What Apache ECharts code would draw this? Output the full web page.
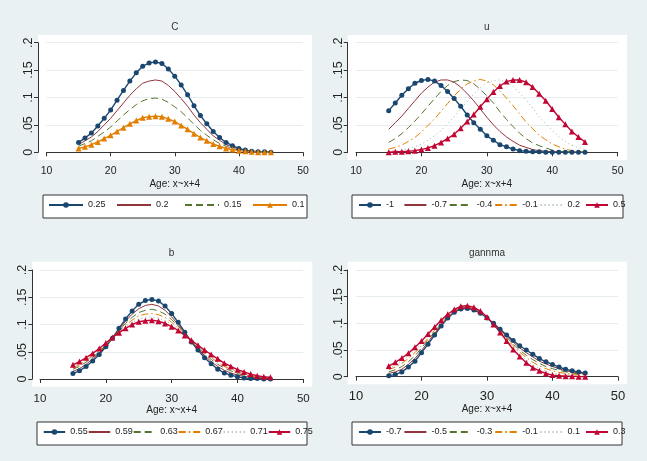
<!DOCTYPE html>
<html>
<head>
<meta charset="utf-8">
<script src="https://cdn.jsdelivr.net/npm/echarts@6/dist/echarts.min.js"></script>
<style>
  html, body { margin: 0; padding: 0; background: #eaf1f3; }
  #chart { width: 647px; height: 461px; }
</style>
</head>
<body>
<div id="chart"></div>
<script>
// ages on the x axis (start of each 5-year age group)
const ages = [15, 16, 17, 18, 19, 20, 21, 22, 23, 24, 25, 26, 27, 28, 29, 30,
  31, 32, 33, 34, 35, 36, 37, 38, 39, 40, 41, 42, 43, 44, 45];
const xTicks = [10, 20, 30, 40, 50];
const yTickLabels = ['0', '.05', '.1', '.15', '.2'];
const xTitle = 'Age: x~x+4';

// panel C
const cLabels = ['0.25', '0.2', '0.15', '0.1'];
const c025 = [0.018, 0.026, 0.035, 0.048, 0.062, 0.077, 0.095, 0.113, 0.130, 0.145, 0.157, 0.163, 0.165, 0.162, 0.152, 0.139,
  0.123, 0.105, 0.085, 0.067, 0.052, 0.038, 0.027, 0.018, 0.012, 0.007, 0.004, 0.002, 0.001, 0.001, 0.000];
const c020 = [0.014, 0.021, 0.028, 0.038, 0.050, 0.062, 0.076, 0.090, 0.104, 0.116, 0.126, 0.130, 0.132, 0.130, 0.122, 0.111,
  0.098, 0.084, 0.068, 0.054, 0.042, 0.030, 0.022, 0.014, 0.010, 0.006, 0.003, 0.002, 0.001, 0.001, 0.000];
const c015 = [0.011, 0.016, 0.021, 0.029, 0.037, 0.046, 0.057, 0.068, 0.078, 0.087, 0.094, 0.098, 0.099, 0.097, 0.091, 0.083,
  0.074, 0.063, 0.051, 0.040, 0.031, 0.023, 0.016, 0.011, 0.007, 0.004, 0.002, 0.001, 0.001, 0.001, 0.000];
const c010 = [0.007, 0.010, 0.014, 0.019, 0.025, 0.031, 0.038, 0.045, 0.052, 0.058, 0.063, 0.065, 0.066, 0.065, 0.061, 0.056,
  0.049, 0.042, 0.034, 0.027, 0.021, 0.015, 0.011, 0.007, 0.005, 0.003, 0.002, 0.001, 0.000, 0.000, 0.000];

// panel u
const uLabels = ['-1', '-0.7', '-0.4', '-0.1', '0.2', '0.5'];
const uM10 = [0.076, 0.090, 0.104, 0.116, 0.126, 0.131, 0.133, 0.130, 0.122, 0.111, 0.098, 0.084, 0.068, 0.054, 0.042, 0.030,
  0.022, 0.014, 0.010, 0.006, 0.003, 0.002, 0.001, 0.001, 0.000, 0.000, 0.000, 0.000, 0.000, 0.000, 0.000];
const uM07 = [0.042, 0.054, 0.066, 0.080, 0.094, 0.108, 0.119, 0.128, 0.132, 0.132, 0.128, 0.119, 0.107, 0.094, 0.079, 0.064,
  0.050, 0.038, 0.028, 0.020, 0.013, 0.009, 0.005, 0.003, 0.002, 0.001, 0.001, 0.000, 0.000, 0.000, 0.000];
const uM04 = [0.018, 0.025, 0.034, 0.045, 0.057, 0.070, 0.084, 0.098, 0.111, 0.122, 0.129, 0.132, 0.131, 0.125, 0.115, 0.103,
  0.090, 0.074, 0.060, 0.047, 0.035, 0.025, 0.017, 0.012, 0.008, 0.004, 0.002, 0.001, 0.001, 0.001, 0.000];
const uM01 = [0.006, 0.009, 0.013, 0.020, 0.027, 0.037, 0.049, 0.061, 0.075, 0.089, 0.103, 0.115, 0.125, 0.130, 0.133, 0.130,
  0.123, 0.112, 0.099, 0.085, 0.070, 0.055, 0.043, 0.031, 0.023, 0.015, 0.010, 0.006, 0.003, 0.002, 0.001];
const uP02 = [0.002, 0.003, 0.004, 0.007, 0.010, 0.015, 0.022, 0.030, 0.040, 0.052, 0.065, 0.079, 0.093, 0.106, 0.118, 0.127,
  0.131, 0.132, 0.128, 0.120, 0.108, 0.095, 0.081, 0.065, 0.052, 0.040, 0.028, 0.020, 0.013, 0.009, 0.005];
const uP05 = [0.000, 0.001, 0.001, 0.002, 0.003, 0.005, 0.008, 0.012, 0.018, 0.025, 0.033, 0.044, 0.056, 0.069, 0.083, 0.097,
  0.110, 0.121, 0.129, 0.132, 0.132, 0.128, 0.119, 0.107, 0.094, 0.079, 0.064, 0.051, 0.038, 0.028, 0.019];

// panel b
const bLabels = ['0.55', '0.59', '0.63', '0.67', '0.71', '0.75'];
const b055 = [0.010, 0.015, 0.023, 0.033, 0.045, 0.059, 0.075, 0.093, 0.110, 0.125, 0.137, 0.144, 0.146, 0.143, 0.134, 0.120,
  0.104, 0.086, 0.068, 0.053, 0.039, 0.028, 0.018, 0.011, 0.007, 0.004, 0.002, 0.001, 0.001, 0.000, 0.000];
const b059 = [0.014, 0.019, 0.027, 0.037, 0.048, 0.061, 0.075, 0.091, 0.106, 0.119, 0.129, 0.135, 0.137, 0.134, 0.126, 0.114,
  0.100, 0.085, 0.069, 0.055, 0.043, 0.032, 0.023, 0.016, 0.011, 0.007, 0.005, 0.003, 0.002, 0.001, 0.001];
const b063 = [0.018, 0.023, 0.031, 0.040, 0.050, 0.062, 0.075, 0.089, 0.102, 0.113, 0.122, 0.126, 0.128, 0.125, 0.119, 0.109,
  0.097, 0.083, 0.069, 0.057, 0.046, 0.036, 0.027, 0.020, 0.015, 0.010, 0.007, 0.005, 0.003, 0.002, 0.001];
const b067 = [0.021, 0.026, 0.034, 0.042, 0.052, 0.064, 0.076, 0.088, 0.099, 0.108, 0.116, 0.119, 0.120, 0.118, 0.113, 0.104,
  0.094, 0.082, 0.070, 0.059, 0.048, 0.039, 0.031, 0.023, 0.018, 0.013, 0.009, 0.006, 0.004, 0.003, 0.002];
const b071 = [0.024, 0.030, 0.037, 0.045, 0.054, 0.065, 0.076, 0.086, 0.096, 0.104, 0.110, 0.113, 0.114, 0.112, 0.107, 0.100,
  0.091, 0.081, 0.071, 0.061, 0.051, 0.043, 0.034, 0.026, 0.021, 0.015, 0.011, 0.008, 0.005, 0.003, 0.003];
const b075 = [0.026, 0.032, 0.039, 0.047, 0.056, 0.066, 0.076, 0.085, 0.093, 0.100, 0.105, 0.107, 0.108, 0.106, 0.102, 0.096,
  0.089, 0.080, 0.071, 0.062, 0.053, 0.045, 0.037, 0.029, 0.023, 0.017, 0.013, 0.009, 0.006, 0.004, 0.003];

// panel gannma
const gLabels = ['-0.7', '-0.5', '-0.3', '-0.1', '0.1', '0.3'];
const gM07 = [0.002, 0.004, 0.009, 0.018, 0.029, 0.045, 0.061, 0.078, 0.095, 0.110, 0.121, 0.127, 0.128, 0.125, 0.119, 0.110,
  0.100, 0.089, 0.078, 0.068, 0.058, 0.050, 0.042, 0.034, 0.028, 0.023, 0.018, 0.014, 0.011, 0.009, 0.007];
const gM05 = [0.006, 0.009, 0.014, 0.023, 0.034, 0.049, 0.065, 0.081, 0.097, 0.111, 0.122, 0.128, 0.129, 0.126, 0.120, 0.110,
  0.100, 0.088, 0.076, 0.065, 0.054, 0.045, 0.037, 0.029, 0.024, 0.019, 0.015, 0.011, 0.009, 0.007, 0.006];
const gM03 = [0.009, 0.013, 0.019, 0.028, 0.039, 0.054, 0.069, 0.084, 0.099, 0.113, 0.123, 0.129, 0.130, 0.127, 0.121, 0.111,
  0.099, 0.087, 0.074, 0.061, 0.050, 0.040, 0.032, 0.025, 0.019, 0.015, 0.012, 0.009, 0.007, 0.005, 0.004];
const gM01 = [0.013, 0.018, 0.025, 0.034, 0.045, 0.058, 0.072, 0.087, 0.102, 0.114, 0.124, 0.130, 0.131, 0.128, 0.121, 0.111,
  0.099, 0.085, 0.071, 0.058, 0.046, 0.036, 0.027, 0.020, 0.015, 0.011, 0.008, 0.006, 0.005, 0.004, 0.003];
const gP01 = [0.016, 0.022, 0.030, 0.039, 0.050, 0.063, 0.076, 0.090, 0.104, 0.116, 0.125, 0.131, 0.132, 0.129, 0.122, 0.112,
  0.098, 0.084, 0.069, 0.054, 0.042, 0.031, 0.022, 0.016, 0.010, 0.007, 0.005, 0.004, 0.003, 0.002, 0.001];
const gP03 = [0.020, 0.027, 0.035, 0.044, 0.055, 0.067, 0.080, 0.093, 0.106, 0.117, 0.126, 0.132, 0.133, 0.130, 0.123, 0.112,
  0.098, 0.083, 0.067, 0.051, 0.038, 0.026, 0.017, 0.011, 0.006, 0.003, 0.002, 0.001, 0.001, 0.000, 0.000];

const FONT = '"Liberation Sans", Arial, sans-serif';
const INK = '#222';

// Stata s2color-like styles
const navyDots = { color: '#1a476f', symbol: 'circle', symbolSize: 5, lineStyle: { width: 1.4 } };
const maroon = { color: '#90353b', symbol: 'none', lineStyle: { width: 1 } };
const greenDash = { color: '#55752f', symbol: 'none', lineStyle: { width: 1, type: [7, 4] } };
const orangeDashDot = { color: '#e37e00', symbol: 'none', lineStyle: { width: 1, type: [7, 3, 1.5, 3] } };
const tealDots = { color: '#9cb3ab', symbol: 'none', lineStyle: { width: 1, type: [1, 3] } };
const redTri = { color: '#c10534', symbol: 'triangle', symbolSize: 6, lineStyle: { width: 1.4 } };
const orangeTri = { color: '#e37e00', symbol: 'triangle', symbolSize: 6, lineStyle: { width: 1.4 } };

// panel frames (pixels)
const panels = [
  { title: 'C', grid: { left: 46.5, top: 42.7, width: 256.5, height: 109.6 }, plot: [38, 35, 274, 125],
    xOff: 7.7, yOff: 8.5, xFont: 10.5, legendBox: [43, 195, 264, 23] },
  { title: 'u', grid: { left: 356, top: 42.7, width: 261.7, height: 109.6 }, plot: [347.7, 35, 279.3, 125],
    xOff: 7.7, yOff: 8.3, xFont: 10.5, legendBox: [352, 195, 271, 23] },
  { title: 'b', grid: { left: 40, top: 270, width: 263.3, height: 109 }, plot: [32.3, 261.7, 280, 125],
    xOff: 7.7, yOff: 7.7, xFont: 11.5, legendBox: [37, 422, 270, 23] },
  { title: 'gannma', grid: { left: 356, top: 270, width: 262, height: 106.7 }, plot: [347.7, 261.7, 279.3, 122.6],
    xOff: 7.6, yOff: 8.3, xFont: 13, legendBox: [352, 422, 270, 23] }
];

const groups = [
  { key: 'C', labels: cLabels, values: [c025, c020, c015, c010], styles: [navyDots, maroon, greenDash, orangeTri] },
  { key: 'u', labels: uLabels, values: [uM10, uM07, uM04, uM01, uP02, uP05],
    styles: [navyDots, maroon, greenDash, orangeDashDot, tealDots, redTri] },
  { key: 'b', labels: bLabels, values: [b055, b059, b063, b067, b071, b075],
    styles: [navyDots, maroon, greenDash, orangeDashDot, tealDots, redTri] },
  { key: 'g', labels: gLabels, values: [gM07, gM05, gM03, gM01, gP01, gP03],
    styles: [navyDots, maroon, greenDash, orangeDashDot, tealDots, redTri] }
];

const series = [];
groups.forEach((g, gi) => {
  g.values.forEach((vals, si) => {
    const st = g.styles[si];
    series.push({
      type: 'line',
      name: g.key + ':' + g.labels[si],
      xAxisIndex: gi,
      yAxisIndex: gi,
      data: ages.map((a, i) => [a, vals[i]]),
      color: st.color,
      symbol: st.symbol,
      symbolSize: st.symbolSize || 4,
      showAllSymbol: true,
      lineStyle: Object.assign({ color: st.color }, st.lineStyle),
      itemStyle: { color: st.color },
      emphasis: { disabled: true },
      animation: false
    });
  });
});

// legend columns: first key start, column step, key length (Stata lays keys out in even columns)
const legendLayouts = [
  { left: 48, step: 68, itemWidth: 34 },
  { left: 358, step: 45.4, itemWidth: 22 },
  { left: 42.7, step: 45, itemWidth: 21.5 },
  { left: 358, step: 45.4, itemWidth: 22 }
];
const LEG_FONT = 9;

// one legend component per key so every column sits at its own x
const legends = [];
groups.forEach((g, gi) => {
  const L = legendLayouts[gi];
  g.labels.forEach((l, si) => {
    const item = { name: g.key + ':' + l };
    if (g.styles[si].symbol === 'none') item.itemStyle = { opacity: 0 };
    legends.push({
      left: L.left + si * L.step,
      top: panels[gi].legendBox[1] + 5.5,
      padding: 0,
      itemWidth: L.itemWidth,
      itemHeight: 7,
      selectedMode: false,
      data: [item],
      formatter: n => n.slice(n.indexOf(':') + 1),
      textStyle: { color: INK, fontSize: LEG_FONT, fontFamily: FONT }
    });
  });
});

const option = {
  backgroundColor: '#eaf1f3',
  textStyle: { fontFamily: FONT },
  grid: panels.map(p => Object.assign({ containLabel: false }, p.grid)),
  xAxis: panels.map((p, i) => ({
    type: 'value', gridIndex: i, min: xTicks[0], max: xTicks[xTicks.length - 1], interval: 10,
    offset: p.xOff,
    name: xTitle, nameLocation: 'middle', nameGap: 19,
    nameTextStyle: { color: INK, fontSize: 10, fontFamily: FONT },
    axisLine: { lineStyle: { color: '#333', width: 1 } },
    axisTick: { length: 4, lineStyle: { color: '#333' } },
    axisLabel: { color: INK, fontSize: p.xFont, margin: 6, fontFamily: FONT },
    splitLine: { show: false }
  })),
  yAxis: panels.map((p, i) => ({
    type: 'value', gridIndex: i, min: 0, max: 0.2, interval: 0.05,
    offset: p.yOff,
    axisLine: { show: true, lineStyle: { color: '#333', width: 1 } },
    axisTick: { show: true, length: 4, lineStyle: { color: '#333' } },
    axisLabel: {
      color: INK, fontSize: 12.5, rotate: 90, margin: 3, fontFamily: FONT,
      formatter: v => yTickLabels[Math.round(v / 0.05)]
    },
    splitLine: { show: true, lineStyle: { color: '#e6edf0', width: 1 } }
  })),
  legend: legends,
  graphic: [].concat(
    panels.map(p => ({
      type: 'rect', z: -10, silent: true,
      shape: { x: p.plot[0], y: p.plot[1], width: p.plot[2], height: p.plot[3] },
      style: { fill: '#ffffff' }
    })),
    panels.map(p => ({
      type: 'rect', z: -10, silent: true,
      shape: { x: p.legendBox[0], y: p.legendBox[1], width: p.legendBox[2], height: p.legendBox[3] },
      style: { fill: '#ffffff', stroke: '#333', lineWidth: 1 }
    })),
    panels.map(p => ({
      type: 'text', silent: true,
      x: p.grid.left + p.grid.width / 2, y: p.plot[1] - 8,
      style: { text: p.title, fill: '#333', fontSize: 10, fontFamily: FONT, textAlign: 'center', textVerticalAlign: 'middle' }
    }))
  ),
  series: series
};

const chart = echarts.init(document.getElementById('chart'), null, { renderer: 'canvas' });
chart.setOption(option);
</script>
</body>
</html>
